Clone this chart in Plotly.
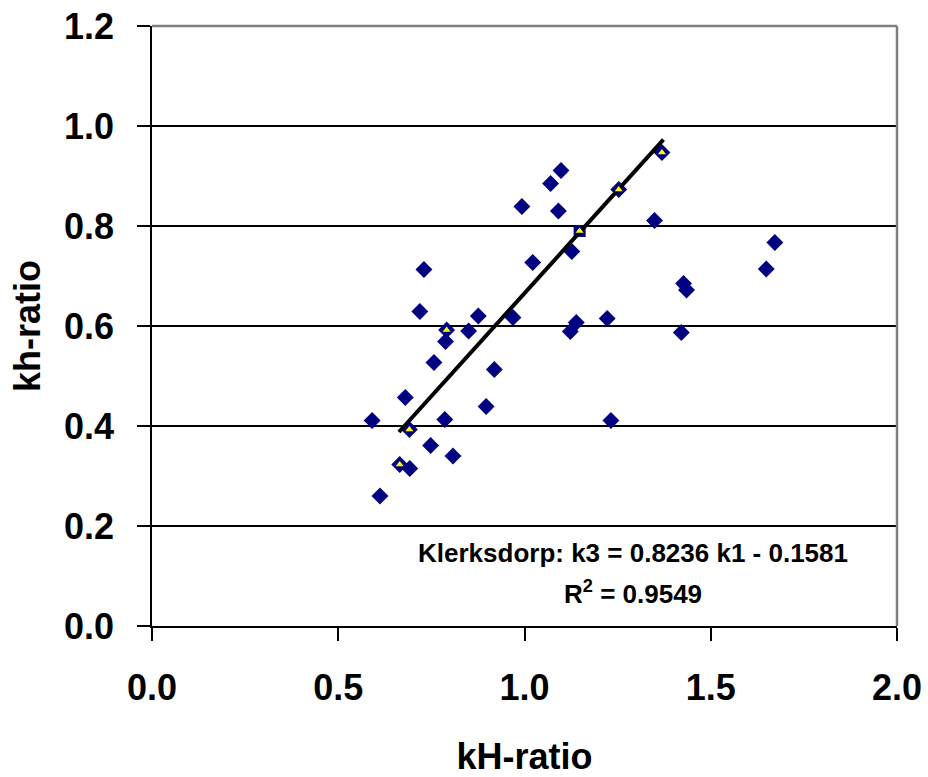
import plotly.graph_objects as go

# Data
kH_ratio = [1.098, 1.070, 0.993, 1.091, 1.349, 1.127, 1.022, 0.730, 1.427, 1.435,
            0.719, 0.876, 0.969, 1.139, 1.222, 0.850, 1.123, 1.421, 0.788, 0.757,
            0.919, 0.680, 0.897, 0.591, 0.786, 1.232, 0.748, 0.808, 0.692, 0.612,
            1.649, 1.672]
kh_ratio = [0.911, 0.885, 0.839, 0.830, 0.811, 0.749, 0.727, 0.713, 0.685, 0.672,
            0.629, 0.620, 0.617, 0.607, 0.615, 0.590, 0.589, 0.587, 0.569, 0.527,
            0.513, 0.457, 0.439, 0.411, 0.413, 0.411, 0.361, 0.340, 0.315, 0.260,
            0.714, 0.767]

# Highlighted (yellow) points
kH_hl = [1.369, 1.253, 0.791, 0.691, 0.665]
kh_hl = [0.947, 0.873, 0.592, 0.393, 0.323]

# Square marker point
kH_sq = [1.148]
kh_sq = [0.790]

# Trendline: k3 = 0.8236 k1 - 0.1581
slope = 0.8236
intercept = -0.1581
fit_x = [0.663, 1.373]
fit_y = [slope * v + intercept for v in fit_x]

x_ticks = [0.0, 0.5, 1.0, 1.5, 2.0]
y_ticks = [0.0, 0.2, 0.4, 0.6, 0.8, 1.0, 1.2]

navy = "#000080"
font_family = "Liberation Sans, Arial, sans-serif"

fig = go.Figure()

fig.add_trace(go.Scatter(
    x=kH_ratio, y=kh_ratio, mode="markers",
    marker=dict(symbol="diamond", size=13, color=navy, line=dict(width=0)),
    showlegend=False, hoverinfo="x+y"))

fig.add_trace(go.Scatter(
    x=kH_hl, y=kh_hl, mode="markers",
    marker=dict(symbol="diamond", size=13, color=navy, line=dict(width=0)),
    showlegend=False, hoverinfo="x+y"))

fig.add_trace(go.Scatter(
    x=kH_sq, y=kh_sq, mode="markers",
    marker=dict(symbol="square", size=12, color=navy, line=dict(width=0)),
    showlegend=False, hoverinfo="x+y"))

fig.add_trace(go.Scatter(
    x=fit_x, y=fit_y, mode="lines",
    line=dict(color="black", width=4),
    showlegend=False, hoverinfo="skip"))

fig.add_trace(go.Scatter(
    x=kH_hl + kH_sq, y=kh_hl + kh_sq, mode="markers",
    marker=dict(symbol="triangle-up", size=7, color="#FFFF00", line=dict(width=0)),
    showlegend=False, hoverinfo="x+y"))

fig.update_layout(
    width=928, height=777,
    margin=dict(l=152, r=31, t=26, b=151),
    paper_bgcolor="white", plot_bgcolor="white",
    font=dict(family=font_family, color="black"),
    xaxis=dict(
        range=[0, 2.0], tickvals=x_ticks, ticktext=[f"{v:.1f}" for v in x_ticks],
        showgrid=False, zeroline=False, automargin=False,
        showline=True, linecolor="black", linewidth=1.5,
        ticks="outside", ticklen=13, tickcolor="black", tickwidth=1.5,
        tickfont=dict(size=36, family=font_family, weight="bold"),
        ticklabelstandoff=16,
        title=dict(text="<b>kH-ratio</b>", font=dict(size=36, family=font_family), standoff=38),
    ),
    yaxis=dict(
        range=[0, 1.2], tickvals=y_ticks, ticktext=[f"{v:.1f}" for v in y_ticks],
        showgrid=True, gridcolor="black", gridwidth=1.5, zeroline=False, automargin=False,
        showline=True, linecolor="black", linewidth=1.5,
        ticks="outside", ticklen=13, tickcolor="black", tickwidth=1.5,
        tickfont=dict(size=36, family=font_family, weight="bold"),
        ticklabelstandoff=16,
        title=dict(text="<b>kh-ratio</b>", font=dict(size=36, family=font_family), standoff=12),
    ),
    shapes=[
        dict(type="line", xref="paper", yref="paper", x0=0, x1=1, y0=1, y1=1,
             line=dict(color="#808080", width=2.5)),
        dict(type="line", xref="paper", yref="paper", x0=1, x1=1, y0=0, y1=1,
             line=dict(color="#808080", width=2.5)),
    ],
    annotations=[
        dict(x=1.29, y=0.146, xref="x", yref="y",
             text="<b>Klerksdorp: k3 = 0.8236 k1 - 0.1581</b>",
             showarrow=False, align="center",
             font=dict(size=26, family=font_family, color="black"),
             yanchor="middle", xanchor="center"),
        dict(x=1.292, y=0.068, xref="x", yref="y",
             text="<b>R<sup>2</sup> = 0.9549</b>",
             showarrow=False, align="center",
             font=dict(size=26, family=font_family, color="black"),
             yanchor="middle", xanchor="center"),
    ],
)

fig.write_html("out.html")
